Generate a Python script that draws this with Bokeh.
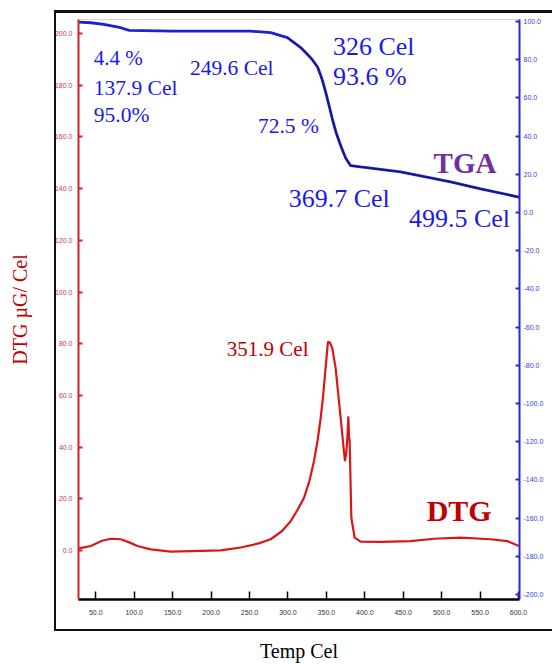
from bokeh.plotting import figure
from bokeh.models import (Range1d, LinearAxis, FixedTicker, PrintfTickFormatter,
                          Label, InlineStyleSheet)
from bokeh.embed import file_html
from bokeh.resources import INLINE

# ---------------- data ----------------
tga_temp = [28.3, 43.5, 60.4, 82.5, 93.3, 150, 200, 251.6, 277.6, 299.3, 316.6, 327.4,
            332.2, 338.7, 342.6, 345.2, 349.1, 353.5, 357.8, 362.5, 368.6, 375.1,
            381.6, 394.6, 446.6, 511.6, 550.7, 598.8, 601.0]
tga_val = [99.6, 99.3, 98.4, 96.7, 95.3, 94.9, 94.9, 94.9, 94.1, 91.5, 86.3, 81.9,
           79.7, 76.0, 71.8, 68.7, 63.0, 56.0, 48.9, 42.0, 35.0, 28.5,
           24.5, 23.8, 21.2, 16.0, 12.4, 8.2, 8.0]

dtg_temp = [28.3, 43.5, 58, 69.5, 82.5, 95, 104.2, 121.5, 147.5, 186.5, 212.5, 238.6,
            262, 277.6, 292, 303.6, 312, 320.9, 328, 333.9, 338.5, 342.6, 345.5, 347.8,
            350, 352.1, 354.5, 357.8, 362.1, 368.6, 372, 374.2, 376, 377.3, 378.6,
            379.5, 380.3, 382.5, 386.8, 394.6, 420.6, 459.6, 489.9, 524.6, 563.7,
            585.4, 600.5]
dtg_val = [0.9, 1.8, 3.8, 4.6, 4.4, 3.0, 1.8, 0.5, -0.4, -0.1, 0.1, 1.2,
           2.8, 4.4, 7.5, 11.4, 15.5, 20.4, 27.0, 34.6, 42.5, 51.3, 59.0, 66.7,
           74.0, 80.8, 80.5, 78.2, 70.5, 51.3, 41.0, 34.6, 38.0, 43.5, 51.9,
           44.0, 42.3, 12.7, 5.0, 3.5, 3.4, 3.7, 4.6, 5.0, 4.4,
           3.7, 1.8]

x_ticks = [50, 100, 150, 200, 250, 300, 350, 400, 450, 500, 550, 600]
dtg_ticks = [0, 20, 40, 60, 80, 100, 120, 140, 160, 180, 200]
tga_ticks = [-200, -180, -160, -140, -120, -100, -80, -60, -40, -20, 0, 20, 40, 60, 80, 100]

# ---------------- figure ----------------
p = figure(width=552, height=664, output_backend="svg", toolbar_location=None,
           x_range=Range1d(27.5, 601.3), y_range=Range1d(-18.9, 205.4),
           min_border_left=78, min_border_right=33, min_border_top=19,
           min_border_bottom=62, background_fill_color="white")
p.xgrid.visible = False
p.ygrid.visible = False
p.outline_line_color = "#d6d6d6"
p.outline_line_width = 1

p.extra_y_ranges = {"tga": Range1d(-202.6, 101.0)}
raxis = LinearAxis(y_range_name="tga")
p.add_layout(raxis, "right")

TICKFONT = "Liberation Sans"
SERIF = "Liberation Serif"

# bottom axis
xa = p.xaxis[0]
xa.ticker = FixedTicker(ticks=x_ticks)
xa.formatter = PrintfTickFormatter(format="%.1f")
xa.axis_line_color = "black"
xa.axis_line_width = 2.5
xa.major_tick_in = 8
xa.major_tick_out = 0
xa.major_tick_line_color = "black"
xa.major_tick_line_width = 1.5
xa.minor_tick_line_color = None
xa.major_label_text_font = TICKFONT
xa.major_label_text_font_size = "7px"
xa.major_label_text_color = "#333333"
xa.major_label_standoff = 10
xa.axis_label = "Temp Cel"
xa.axis_label_text_font = SERIF
xa.axis_label_text_font_size = "20px"
xa.axis_label_text_font_style = "normal"
xa.axis_label_text_color = "black"
xa.axis_label_standoff = 22

# left axis (DTG)
la = p.yaxis[0]
la.ticker = FixedTicker(ticks=dtg_ticks)
la.formatter = PrintfTickFormatter(format="%.1f")
la.axis_line_color = "#d42020"
la.axis_line_width = 2
la.major_tick_in = 4
la.major_tick_out = 0
la.major_tick_line_color = "#d42020"
la.major_tick_line_width = 2
la.minor_tick_line_color = None
la.major_label_text_font = TICKFONT
la.major_label_text_font_size = "7px"
la.major_label_text_color = "#d43a3a"
la.major_label_standoff = 6
la.axis_label = "DTG µG/ Cel"
la.axis_label_text_font = SERIF
la.axis_label_text_font_size = "20px"
la.axis_label_text_font_style = "normal"
la.axis_label_text_color = "#c00000"
la.axis_label_standoff = 21

# right axis (TGA)
raxis.ticker = FixedTicker(ticks=tga_ticks)
raxis.formatter = PrintfTickFormatter(format="%.1f")
raxis.axis_line_color = "#2a2ad0"
raxis.axis_line_width = 2
raxis.major_tick_in = 4
raxis.major_tick_out = 0
raxis.major_tick_line_color = "#2a2ad0"
raxis.major_tick_line_width = 2
raxis.minor_tick_line_color = None
raxis.major_label_text_font = TICKFONT
raxis.major_label_text_font_size = "7px"
raxis.major_label_text_color = "#3a3ad0"
raxis.major_label_standoff = 4

# curves
p.line(dtg_temp, dtg_val, line_color="#d81818", line_width=2.2)
p.line(tga_temp, tga_val, y_range_name="tga", line_color="#2020cc", line_width=2.8)
k = 9
p.line(tga_temp[k:], tga_val[k:], y_range_name="tga", line_color="#14145e", line_width=1.0)

# annotations (data coordinates on temperature / DTG scale)
def lab(x, y, t, color, size, style="normal"):
    p.add_layout(Label(x=x, y=y, text=t, text_color=color, text_font=SERIF,
                       text_font_size=size, text_font_style=style,
                       text_baseline="alphabetic", text_align="left"))

BLUE = "#1a1ae6"
lab(47.5, 190.4, "4.4 %", BLUE, "21px")
lab(47.5, 178.8, "137.9 Cel", BLUE, "21.5px")
lab(47.5, 168.4, "95.0%", BLUE, "21.5px")
lab(172.5, 186.5, "249.6 Cel", BLUE, "21.5px")
lab(261.0, 164.3, "72.5 %", BLUE, "21.5px")
lab(358.5, 195.0, "326 Cel", BLUE, "26px")
lab(358.5, 183.4, "93.6 %", BLUE, "26px")
lab(301.0, 136.0, "369.7 Cel", BLUE, "26px")
lab(457.5, 128.3, "499.5 Cel", BLUE, "26px")
lab(489.5, 149.9, "TGA", "#7030a0", "29px", "bold")
lab(220.5, 77.8, "351.9 Cel", "#c00000", "21px")
lab(480.5, 15.5, "DTG", "#c00000", "30px", "bold")

# outer black frame of the original figure (decoration)
p.stylesheets = [InlineStyleSheet(css="""
:host { position: relative; }
:host::after {
  content: ""; position: absolute; left: 54px; top: 10px; right: 0px; height: 621px;
  box-sizing: border-box; border-left: 2px solid #111; border-top: 3px solid #111;
  border-bottom: 2px solid #111; pointer-events: none;
}
""")]

open("out.html", "w").write(file_html(p, INLINE))
